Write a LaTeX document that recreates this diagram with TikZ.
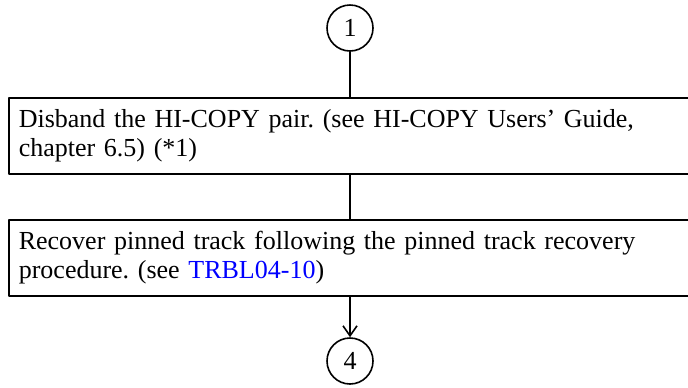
\documentclass[tikz,border=0pt]{standalone}
\usepackage{fontspec}
\setmainfont{Liberation Serif}
\usepackage{tikz}
\usetikzlibrary{arrows.meta,positioning}
\frenchspacing
\tikzset{
  every picture/.style={font=\fontsize{13}{14.5}\selectfont, line join=round, line cap=round, >={Straight Barb[length=5pt,width=7pt]}},
  conn/.style={circle,draw,line width=0.8pt,minimum size=23pt,inner sep=0pt},
  stepbox/.style={draw,line width=0.8pt,anchor=north west,text width=335pt,align=left,inner xsep=5pt,minimum height=38pt},
}
\begin{document}
\begin{tikzpicture}[x=1pt,y=1pt]
\useasboundingbox (0,0) rectangle (344,-193.5);
\node[conn] (c1) at (175,-14) {1};
\node[stepbox] (box1) at (4,-48.5) {Disband the HI-COPY pair. (see HI-COPY Users’ Guide,\\ chapter 6.5) (*1)};
\node[stepbox] (box2) at (4,-109.5) {Recover pinned track following the pinned track recovery\\ procedure. (see \textcolor{blue}{TRBL04-10})};
\node[conn] (c4) at (175,-180.5) {4};
\draw[line width=0.8pt] (c1) -- (c1 |- box1.north)
(c1 |- box1.south) -- (c1 |- box2.north);
\draw[->,line width=0.8pt] (c1 |- box2.south) -- (c4);
\end{tikzpicture}
\end{document}
